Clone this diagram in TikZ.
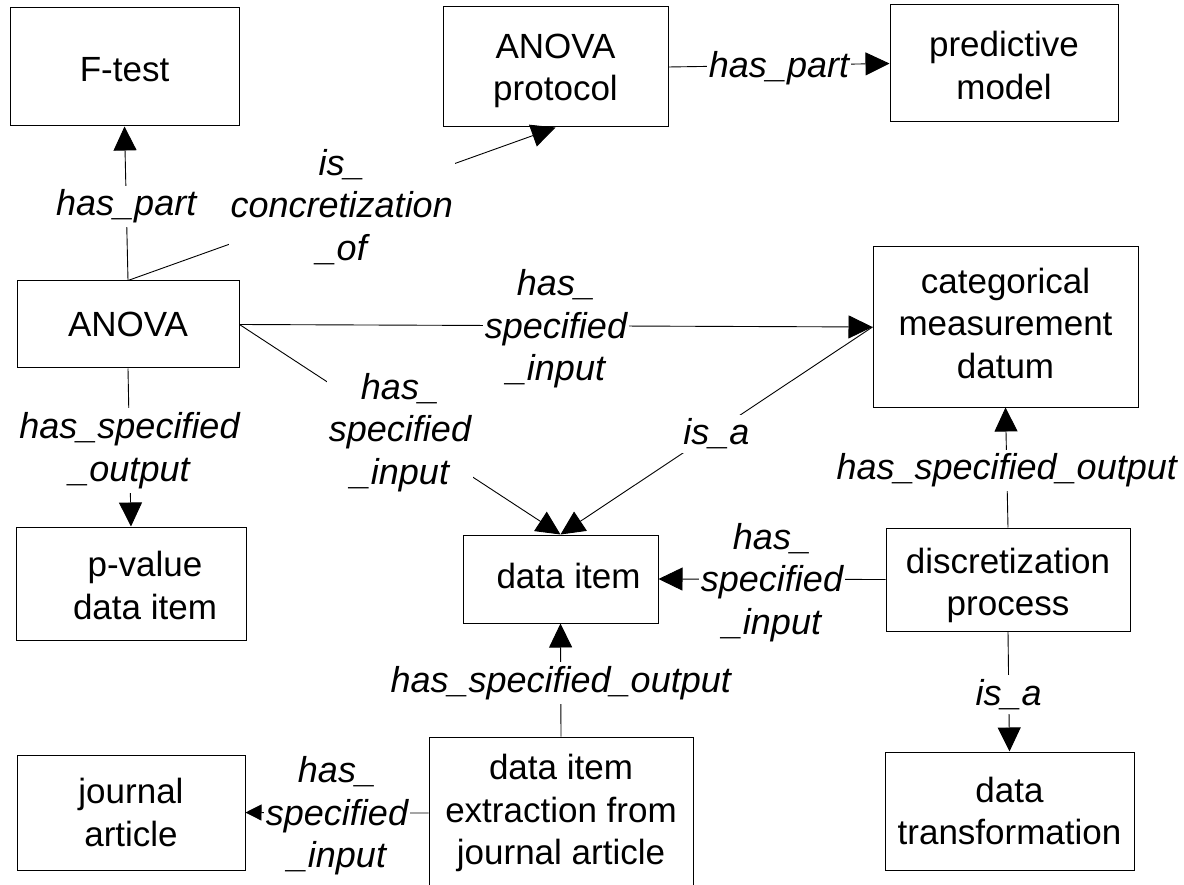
\documentclass[tikz,border=0pt]{standalone}
\usepackage{fontspec}
\setmainfont{Liberation Sans}
\usetikzlibrary{arrows.meta}
\begin{document}
\begin{tikzpicture}[x=1pt,y=-1pt,
  box/.style={draw, line width=1pt, inner sep=0pt},
  boxtext/.style={inner sep=0pt, align=center,
              font=\fontsize{35}{42.5}\selectfont},
  lab/.style={fill=white, inner xsep=2pt, inner ysep=4pt, yshift=-3pt, align=center,
              font=\fontsize{36}{42.5}\selectfont\itshape},
  rel/.style={line width=0.9pt, -{Triangle[length=24pt,width=23pt]}},
  relsmall/.style={line width=0.9pt, -{Triangle[length=16pt,width=16pt]}},
  ]
\useasboundingbox (0,0) rectangle (1184,885);
\begin{scope}
\clip (0,0) rectangle (1184,885);

% classes and processes: frame first, then its caption
\node[box, minimum width=229pt, minimum height=118pt] (ftest) at (124.5,67) {};
\node[boxtext, yshift=-3pt] (ftest-t) at (ftest) {F-test};

\node[box, minimum width=225pt, minimum height=120pt] (protocol) at (555.5,67) {};
\node[boxtext, yshift=-4pt] (protocol-t) at (protocol) {ANOVA\\protocol};

\node[box, minimum width=228pt, minimum height=117pt] (predictive) at (1004,63.5) {};
\node[boxtext, yshift=-2pt] (predictive-t) at (predictive) {predictive\\model};

\node[box, minimum width=222pt, minimum height=87pt] (anova) at (128,324.5) {};
\node[boxtext] (anova-t) at (anova) {ANOVA};

\node[box, minimum width=265pt, minimum height=160pt] (catdatum) at (1005.5,327) {};
\node[boxtext, yshift=4pt] (catdatum-t) at (catdatum) {categorical\\measurement\\datum};

\node[box, minimum width=230pt, minimum height=113pt] (pvalue) at (131,583.5) {};
\node[boxtext, xshift=14pt, yshift=-2pt] (pvalue-t) at (pvalue) {p-value\\data item};

\node[box, minimum width=195pt, minimum height=88pt] (dataitem) at (560.5,579) {};
\node[boxtext, xshift=8pt, yshift=3pt] (dataitem-t) at (dataitem) {data item};

\node[box, minimum width=244pt, minimum height=103pt] (discret) at (1008,579.5) {};
\node[boxtext, yshift=-6pt] (discret-t) at (discret) {discretization\\process};

\node[box, minimum width=228pt, minimum height=115pt] (journal) at (131,812.5) {};
\node[boxtext] (journal-t) at (journal) {journal\\article};

\node[box, minimum width=264pt, minimum height=152pt] (extraction) at (561,813) {};
\node[boxtext] (extraction-t) at (extraction) {data item\\extraction from\\journal article};

\node[box, minimum width=249pt, minimum height=118pt] (transform) at (1009.5,811) {};
\node[boxtext] (transform-t) at (transform) {data\\transformation};

% relations
\draw[rel] (anova.north) -- node[lab] {has\_part} (ftest.south);
\draw[rel] (anova.north) -- node[lab] {is\_\\concretization\\\_of} (protocol.south);
\draw[rel] (protocol.east) -- node[lab] {has\_part} (predictive.west);
\draw[rel] (anova.east) -- node[lab] {has\_\\specified\\\_input} (catdatum.west);
\draw[rel] (anova.east) -- node[lab] {has\_\\specified\\\_input} (dataitem.north);
\draw[rel] (catdatum.west) -- node[lab] {is\_a} (dataitem.north);
\draw[rel] (anova.south) -- node[lab] {has\_specified\\\_output} (pvalue.north);
\draw[rel] (discret.west) -- node[lab] {has\_\\specified\\\_input} (dataitem.east);
\draw[rel] (discret.north) -- node[lab] {has\_specified\_output} (catdatum.south);
\draw[rel] (discret.south) -- node[lab] {is\_a} (transform.north);
\draw[rel] (extraction.north) -- node[lab] {has\_specified\_output} (dataitem.south);
\draw[relsmall] (extraction.west) -- node[lab] {has\_\\specified\\\_input} (journal.east);
\end{scope}
\end{tikzpicture}
\end{document}
